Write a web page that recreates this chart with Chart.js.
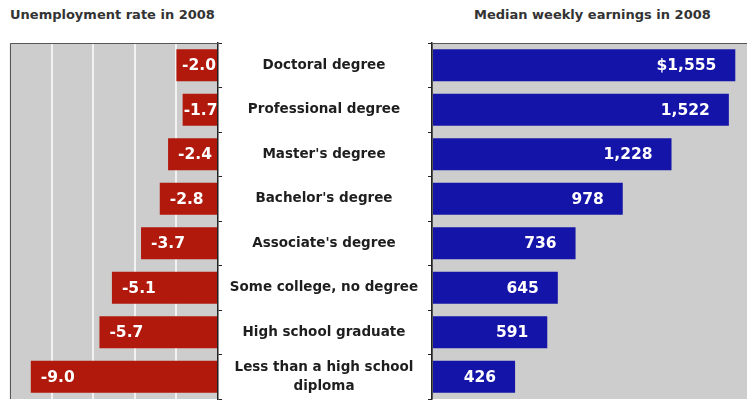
<!DOCTYPE html>
<html>
<head>
<meta charset="utf-8">
<script src="https://cdn.jsdelivr.net/npm/chart.js@4"></script>
<style>
  body { margin: 0; background: #fff; }
  #wrap { position: relative; width: 747px; height: 400px; overflow: hidden; background: #fff; }
  #wrap canvas { position: absolute; top: 0; }
  .ttl { position: absolute; top: 7px; font: bold 13px "DejaVu Sans", sans-serif; color: #333; white-space: nowrap; }
</style>
</head>
<body>
<div id="wrap">
  <div class="ttl" style="left:10px">Unemployment rate in 2008</div>
  <div class="ttl" style="left:474px">Median weekly earnings in 2008</div>
  <canvas id="left" width="222" height="400" style="left:0"></canvas>
  <canvas id="right" width="529" height="400" style="left:218px"></canvas>
</div>
<script>
// ===== data =====
const categories = [
  'Doctoral degree', 'Professional degree', "Master's degree", "Bachelor's degree",
  "Associate's degree", 'Some college, no degree', 'High school graduate',
  ['Less than a high school', 'diploma']
];
const unemployment = [-2.0, -1.7, -2.4, -2.8, -3.7, -5.1, -5.7, -9.0];
const earnings = [1555, 1522, 1228, 978, 736, 645, 591, 426];

const RED = '#b0190c';
const BLUE = '#1414a8';
const PLOT_BG = '#cdcdcd';
const GRID = '#f2f2f2';
const LABEL_FONT = 'bold 15.5px "DejaVu Sans", sans-serif';

// gray plot area + dark frame
const plotFrame = {
  id: 'plotFrame',
  beforeDraw(chart) {
    const { ctx, chartArea: a } = chart;
    ctx.save();
    ctx.fillStyle = PLOT_BG;
    ctx.fillRect(a.left, a.top, a.right - a.left, a.bottom - a.top);
    ctx.restore();
  },
  afterDraw(chart) {
    const { ctx, chartArea: a } = chart;
    ctx.save();
    ctx.strokeStyle = '#555';
    ctx.lineWidth = 1;
    ctx.beginPath();
    ctx.moveTo(a.left + 0.5, a.bottom);
    ctx.lineTo(a.left + 0.5, a.top + 0.5);
    ctx.lineTo(a.right, a.top + 0.5);
    ctx.stroke();
    ctx.restore();
  }
};

// white value labels inside the bars
const valueLabels = {
  id: 'valueLabels',
  afterDatasetsDraw(chart, args, opts) {
    const { ctx, chartArea: a } = chart;
    const meta = chart.getDatasetMeta(0);
    const data = chart.data.datasets[0].data;
    ctx.save();
    ctx.beginPath();
    ctx.rect(a.left, a.top, a.right - a.left, a.bottom - a.top);
    ctx.clip();
    ctx.font = LABEL_FONT;
    ctx.fillStyle = '#fff';
    ctx.textBaseline = 'middle';
    meta.data.forEach((bar, i) => {
      const txt = opts.format(data[i], i);
      const w = ctx.measureText(txt).width;
      if (opts.side === 'start') {
        let x = bar.x + 10;
        if (x + w > a.right - 2) x = Math.max(bar.x + 1, a.right - 2 - w);
        ctx.textAlign = 'left';
        ctx.fillText(txt, x, bar.y + 1);
      } else {
        ctx.textAlign = 'right';
        ctx.fillText(txt, bar.x - 19, bar.y + 1);
      }
    });
    ctx.restore();
  }
};

// category names in the gap between the two charts
const middleLabels = {
  id: 'middleLabels',
  afterDraw(chart) {
    const { ctx } = chart;
    const yScale = chart.scales.y;
    const cx = yScale.left + (yScale.width - 4) / 2 + 1;
    ctx.save();
    ctx.font = 'bold 13.5px "DejaVu Sans", sans-serif';
    ctx.fillStyle = '#1e1e1e';
    ctx.textAlign = 'center';
    ctx.textBaseline = 'middle';
    categories.forEach((c, i) => {
      const y = yScale.getPixelForValue(i);
      const lines = Array.isArray(c) ? c : [c];
      const lh = 19;
      lines.forEach((ln, k) => {
        ctx.fillText(ln, cx, y + (k - (lines.length - 1) / 2) * lh);
      });
    });
    ctx.restore();
  }
};

const common = {
  responsive: false,
  animation: false,
  indexAxis: 'y',
  plugins: { legend: { display: false }, tooltip: { enabled: false } }
};

// LEFT - unemployment
new Chart(document.getElementById('left'), {
  type: 'bar',
  data: {
    labels: categories,
    datasets: [{
      data: unemployment,
      backgroundColor: RED,
      borderWidth: 0,
      barPercentage: 0.72,
      categoryPercentage: 1
    }]
  },
  options: {
    ...common,
    layout: { padding: { left: 10, top: 43, bottom: 1, right: 0 } },
    plugins: {
      ...common.plugins,
      valueLabels: { side: 'start', format: v => v.toFixed(1) }
    },
    scales: {
      x: {
        min: -10, max: 0,
        ticks: { display: false, stepSize: 2 },
        grid: { color: GRID, lineWidth: 2, drawTicks: false },
        border: { display: false }
      },
      y: {
        position: 'right',
        ticks: { display: false },
        grid: { drawOnChartArea: false, tickLength: 4, color: '#222' },
        border: { display: true, color: '#222', width: 1.5 }
      }
    }
  },
  plugins: [plotFrame, valueLabels]
});

// RIGHT - earnings
new Chart(document.getElementById('right'), {
  type: 'bar',
  data: {
    labels: categories,
    datasets: [{
      data: earnings,
      backgroundColor: BLUE,
      borderWidth: 0,
      barPercentage: 0.72,
      categoryPercentage: 1
    }]
  },
  options: {
    ...common,
    layout: { padding: { left: 0, top: 43, bottom: 1, right: 0 } },
    plugins: {
      ...common.plugins,
      valueLabels: {
        side: 'end',
        format: (v, i) => (i === 0 ? '$' : '') + v.toLocaleString('en-US')
      }
    },
    scales: {
      x: {
        min: 0, max: 1615,
        ticks: { display: false, stepSize: 500 },
        afterBuildTicks: s => { s.ticks = s.ticks.filter(t => t.value % 500 === 0); },
        grid: { color: GRID, lineWidth: 2, drawTicks: false },
        border: { display: false }
      },
      y: {
        position: 'left',
        ticks: { display: false },
        afterFit: s => { s.width = 214; },
        grid: { drawOnChartArea: false, tickLength: 4, color: '#222' },
        border: { display: true, color: '#222', width: 1.5 }
      }
    }
  },
  plugins: [plotFrame, valueLabels, middleLabels]
});
</script>
</body>
</html>
